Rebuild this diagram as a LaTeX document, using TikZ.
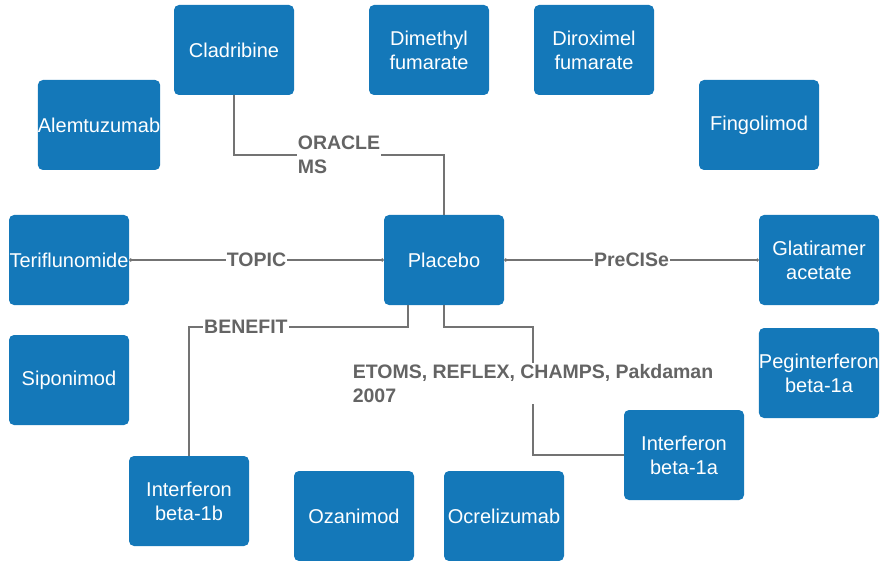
\documentclass[tikz,border=0pt]{standalone}
\usepackage{fontspec}
\setmainfont{Liberation Sans}
\usepackage{tikz}
\usepackage{xcolor}
\usetikzlibrary{arrows.meta, positioning}
\definecolor{drugblue}{RGB}{20,120,185}
\definecolor{linkgray}{RGB}{115,115,115}
\definecolor{trialgray}{RGB}{100,100,100}

\begin{document}
\begin{tikzpicture}[x=1pt, y=-1pt,
  drug/.style={fill=drugblue, rounded corners=5pt, minimum width=120pt, minimum height=90pt, inner sep=0pt, text=white, align=center, font=\fontsize{20}{24}\selectfont},
  link/.style={draw=linkgray, line width=1.5pt},
  trial/.style={fill=white, text=trialgray, inner sep=1pt, align=left, font=\bfseries\fontsize{19.5}{24}\selectfont}]
\useasboundingbox (0,0) rectangle (882,561);

% Farmaci
\node[drug] (clad) at (234,50) {Cladribine};
\node[drug] (dmf) at (429,50) {Dimethyl\\fumarate};
\node[drug] (drf) at (594,50) {Diroximel\\fumarate};
\node[drug] (alem) at (99,125) {Alemtuzumab};
\node[drug] (fing) at (759,125) {Fingolimod};
\node[drug] (teri) at (69,260) {Teriflunomide};
\node[drug] (placebo) at (444,260) {Placebo};
\node[drug] (glat) at (819,260) {Glatiramer\\acetate};
\node[drug] (sipo) at (69,380) {Siponimod};
\node[drug] (pegifn) at (819,373) {Peginterferon\\beta-1a};
\node[drug] (ifa) at (684,455) {Interferon\\beta-1a};
\node[drug] (ifb) at (189,501) {Interferon\\beta-1b};
\node[drug] (ozan) at (354,516) {Ozanimod};
\node[drug] (ocre) at (504,516) {Ocrelizumab};

% Studi
\coordinate (oracle) at (444,155);
\coordinate (benefit) at (408,327);
\coordinate (etoms) at (533,455);
\draw[link] (clad.south) |- node[trial, pos=0.75] {ORACLE\\MS} (oracle) -- (placebo.north);
\draw[link, {Circle[length=3pt]}-{Circle[length=3pt]}] (teri) -- node[trial] {TOPIC} (placebo);
\draw[link, {Circle[length=3pt]}-{Circle[length=3pt]}] (placebo) -- node[trial] {PreCISe} (glat);
\draw[link] (benefit |- placebo.south) -- (benefit) -| node[trial, pos=0.37] {BENEFIT} (ifb.north);
\draw[link] (placebo.south) -- ++(0,22) -| node[trial, pos=0.72] {ETOMS, REFLEX, CHAMPS, Pakdaman\\2007} (etoms) -- (ifa.west);
\end{tikzpicture}
\end{document}
